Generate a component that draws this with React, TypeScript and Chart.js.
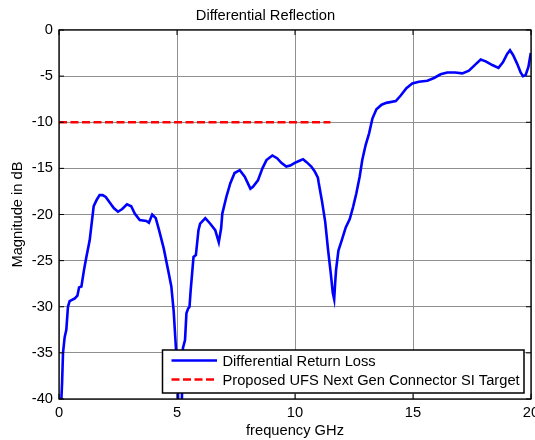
import React, { useEffect, useRef } from "react";
import { Chart, registerables } from "chart.js";

Chart.register(...registerables);

const titleText = "Differential Reflection";
const xLabel = "frequency GHz";
const yLabel = "Magnitude in dB";
const seriesNames = ["Differential Return Loss", "Proposed UFS Next Gen Connector SI Target"];

const freqGHz = [
  0.08, 0.1, 0.13, 0.17, 0.24, 0.31, 0.38, 0.45, 0.67, 0.78, 0.85, 0.95, 1.06, 1.16, 1.3, 1.47, 1.6, 1.72, 1.85, 1.98,
  2.18, 2.32, 2.5, 2.68, 2.88, 3.06, 3.21, 3.42, 3.7, 3.81, 3.95, 4.1, 4.24, 4.44, 4.62, 4.76, 4.86, 4.95, 5.0, 5.05,
  5.12, 5.2, 5.25, 5.34, 5.4, 5.47, 5.53, 5.58, 5.7, 5.8, 5.91, 5.98, 6.2, 6.41, 6.62, 6.77, 6.87, 6.92, 7.09, 7.26,
  7.44, 7.66, 7.87, 8.11, 8.22, 8.43, 8.62, 8.79, 9.04, 9.24, 9.42, 9.63, 9.8, 9.99, 10.17, 10.34, 10.48, 10.69, 10.83,
  10.97, 11.0, 11.14, 11.28, 11.4, 11.52, 11.6, 11.66, 11.7, 11.74, 11.84, 11.98, 12.15, 12.32, 12.46, 12.6, 12.74,
  12.85, 12.99, 13.14, 13.28, 13.45, 13.67, 13.87, 14.27, 14.48, 14.72, 14.97, 15.25, 15.61, 15.89, 16.17, 16.45,
  16.78, 17.09, 17.37, 17.66, 17.87, 18.08, 18.36, 18.62, 18.81, 18.99, 19.11, 19.24, 19.42, 19.56, 19.66, 19.77,
  19.89, 19.99,
];

const returnLossDb = [
  -41, -40, -38.3, -35, -33.3, -32.5, -30, -29.4, -29.1, -28.8, -27.9, -27.8, -26, -24.6, -22.8, -19.1, -18.4, -17.9,
  -17.9, -18.1, -18.8, -19.3, -19.7, -19.4, -18.9, -19.1, -19.9, -20.6, -20.7, -20.9, -20.0, -20.4, -21.7, -23.7,
  -26.0, -27.8, -30.5, -34.3, -36.5, -40, -42, -41, -34.5, -33.6, -30.7, -30.2, -30.0, -28.2, -24.6, -24.4, -21.7,
  -21.0, -20.4, -21.0, -21.7, -23.0, -21.5, -19.9, -18.1, -16.6, -15.5, -15.2, -15.9, -17.2, -17.0, -16.3, -15.0,
  -14.1, -13.6, -13.9, -14.4, -14.8, -14.7, -14.4, -14.2, -14.0, -14.3, -14.8, -15.3, -16.0, -16.5, -18.5, -20.8,
  -23.8, -26.5, -28.5, -29.2, -27.5, -26.0, -23.9, -22.8, -21.4, -20.5, -19.2, -17.7, -15.9, -14.1, -12.5, -11.2,
  -9.6, -8.6, -8.1, -7.9, -7.7, -7.1, -6.3, -5.8, -5.6, -5.5, -5.2, -4.8, -4.6, -4.6, -4.7, -4.4, -3.7, -3.2, -3.4,
  -3.8, -4.1, -3.5, -2.6, -2.2, -2.7, -3.7, -4.6, -5.0, -4.9, -4.0, -2.5,
];

const targetFreqGHz = [0, 11.5];
const targetDb = [-10, -10];

const xTicks = [0, 5, 10, 15, 20];
const yTicks = [0, -5, -10, -15, -20, -25, -30, -35, -40];

const FONT = '"Liberation Sans", Arial, sans-serif';
const FS = 14.7;

const framePlugin = {
  id: "frameAndLegend",
  afterDraw(chart: any) {
    const { ctx, chartArea, scales } = chart;
    const { left, right, top, bottom } = chartArea;
    ctx.save();
    ctx.strokeStyle = "#000";
    ctx.lineWidth = 1.3;
    ctx.strokeRect(left, top, right - left, bottom - top);
    ctx.lineWidth = 1;
    const tl = 5;
    xTicks.forEach((v) => {
      const x = scales.x.getPixelForValue(v);
      ctx.beginPath();
      ctx.moveTo(x, bottom);
      ctx.lineTo(x, bottom - tl);
      ctx.moveTo(x, top);
      ctx.lineTo(x, top + tl);
      ctx.stroke();
    });
    yTicks.forEach((v) => {
      const y = scales.y.getPixelForValue(v);
      ctx.beginPath();
      ctx.moveTo(left, y);
      ctx.lineTo(left + tl, y);
      ctx.moveTo(right, y);
      ctx.lineTo(right - tl, y);
      ctx.stroke();
    });
    const lx = 162.5, ly = 350, lw = 361.5, lh = 43;
    ctx.fillStyle = "#fff";
    ctx.fillRect(lx, ly, lw, lh);
    ctx.strokeStyle = "#000";
    ctx.lineWidth = 1.5;
    ctx.strokeRect(lx, ly, lw, lh);
    const rows = [
      { y: 360.5, color: "#0000ff", dash: [] as number[] },
      { y: 379.5, color: "#ff0000", dash: [8, 3.5] },
    ];
    rows.forEach((r, i) => {
      ctx.beginPath();
      ctx.setLineDash(r.dash);
      ctx.strokeStyle = r.color;
      ctx.lineWidth = 2.5;
      ctx.moveTo(171.5, r.y);
      ctx.lineTo(217, r.y);
      ctx.stroke();
      ctx.setLineDash([]);
      ctx.fillStyle = "#000";
      ctx.font = `${FS}px ${FONT}`;
      ctx.textBaseline = "middle";
      ctx.textAlign = "left";
      ctx.fillText(seriesNames[i], 222.5, r.y + 1);
    });
    ctx.restore();
  },
};

export default function App() {
  const ref = useRef<HTMLCanvasElement | null>(null);
  useEffect(() => {
    if (!ref.current) return;
    Chart.defaults.font.family = FONT;
    Chart.defaults.color = "#000";
    const chart = new Chart(ref.current, {
      type: "scatter",
      data: {
        datasets: [
          {
            label: seriesNames[0],
            data: freqGHz.map((f, i) => ({ x: f, y: returnLossDb[i] })),
            showLine: true,
            borderColor: "#0000ff",
            borderWidth: 2.6,
            pointRadius: 0,
            tension: 0,
          },
          {
            label: seriesNames[1],
            data: targetFreqGHz.map((f, i) => ({ x: f, y: targetDb[i] })),
            showLine: true,
            borderColor: "#ff0000",
            borderWidth: 2.6,
            borderDash: [8, 3.5],
            pointRadius: 0,
          },
        ],
      },
      options: {
        responsive: false,
        animation: false,
        layout: { padding: { left: 0, right: 4, top: 0, bottom: 0 } },
        plugins: {
          legend: { display: false },
          tooltip: { enabled: false },
          title: {
            display: true,
            text: titleText,
            color: "#000",
            font: { size: FS, weight: "normal", family: FONT },
            padding: { top: 7, bottom: 5.36 },
          },
        },
        scales: {
          x: {
            type: "linear",
            min: 0,
            max: 20,
            ticks: { stepSize: 5, color: "#000", font: { size: FS }, padding: 5, maxRotation: 0 },
            grid: { color: "#909090", lineWidth: 1, drawTicks: false },
            border: { display: false },
            title: { display: true, text: xLabel, color: "#000", font: { size: FS }, padding: { top: 0, bottom: 0 } },
            afterFit: (s: any) => {
              s.height = 41;
              s.paddingLeft = 0;
              s.paddingRight = 0;
            },
          },
          y: {
            type: "linear",
            min: -40,
            max: 0,
            ticks: { stepSize: 5, color: "#000", font: { size: FS }, padding: 6 },
            grid: { color: "#909090", lineWidth: 1, drawTicks: false },
            border: { display: false },
            title: { display: true, text: yLabel, color: "#000", font: { size: FS }, padding: { top: 9.2, bottom: 0 } },
            afterFit: (s: any) => {
              s.width = 59;
              s.paddingTop = 0;
              s.paddingBottom = 0;
            },
          },
        },
      },
      plugins: [framePlugin],
    });
    return () => chart.destroy();
  }, []);
  return (
    <div style={{ position: "fixed", left: 0, top: 0, width: 535, height: 440, background: "#fff" }}>
      <canvas ref={ref} width={535} height={440} />
    </div>
  );
}
